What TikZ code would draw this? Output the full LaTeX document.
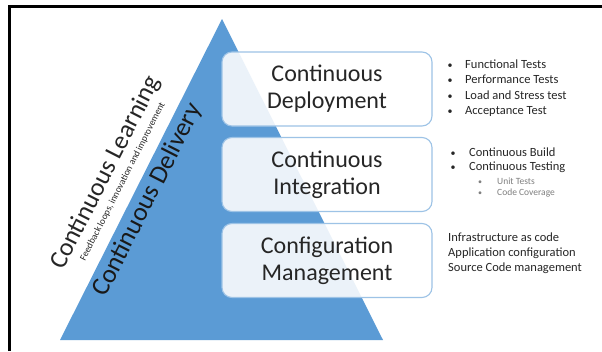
\documentclass[tikz,border=0pt]{standalone}
\usepackage{fontspec}
\setmainfont{Carlito}
\definecolor{triblue}{HTML}{5B9BD5}
\definecolor{boxline}{HTML}{9DC3E6}
\definecolor{txt}{HTML}{262626}
\definecolor{subtxt}{HTML}{7F7F7F}
\tikzset{
  stage/.style={draw=boxline, line width=1.1pt, fill=white, fill opacity=0.88, text opacity=1,
    rounded corners=10pt, minimum width=210pt, minimum height=74pt, align=center,
    text=txt, font=\fontsize{24}{27}\selectfont, inner sep=0pt},
  item/.style={anchor=base west, text=txt, font=\fontsize{12.5}{15}\selectfont, inner sep=0pt},
  bul/.style={anchor=base, text=txt, font=\fontsize{10}{12}\selectfont, inner sep=0pt},
  subitem/.style={anchor=base west, text=subtxt, font=\fontsize{9.5}{11}\selectfont, inner sep=0pt},
  subbul/.style={anchor=base, text=subtxt, font=\fontsize{8}{10}\selectfont, inner sep=0pt},
  slanted/.style={anchor=base, rotate=63, text=txt, inner sep=0pt}
}
\begin{document}
\begin{tikzpicture}[x=1pt,y=-1pt]
\useasboundingbox (0,0) rectangle (602,351);
\fill[white] (0,0) rectangle (602,351);
\draw[line width=3pt, line join=miter] (9.5,351) -- (9.5,6.5) -- (602,6.5);
% pyramid
\fill[triblue] (60,340) -- (222,19) -- (383,340) -- cycle;
% stages
\node[stage] (cd) at (327,89) {Continuous\\Deployment};
\node[stage] (ci) at (327,174.5) {Continuous\\Integration};
\node[stage] (cm) at (327,260.5) {Configuration\\Management};
% rotated labels
\node[slanted, font=\fontsize{25.5}{28}\selectfont] (learn) at (112,176) {Continuous Learning};
\node[slanted, font=\fontsize{9.5}{11}\selectfont] (loops) at (125,183) {Feedback loops, innovation and improvement};
\node[slanted, font=\fontsize{26}{29}\selectfont, text=black!90] (deliv) at (154,203) {Continuous Delivery};
% list 1
\node[bul] (b1) at (450,68) {•};
\node[item] (i1) at (465,68) {Functional Tests};
\node[bul] (b2) at (450,83.5) {•};
\node[item] (i2) at (465,83.5) {Performance Tests};
\node[bul] (b3) at (450,99) {•};
\node[item] (i3) at (465,99) {Load and Stress test};
\node[bul] (b4) at (450,114.5) {•};
\node[item] (i4) at (465,114.5) {Acceptance Test};
% list 2
\node[bul] (b5) at (453,156.5) {•};
\node[item] (i5) at (469,156.5) {Continuous Build};
\node[bul] (b6) at (453,170.5) {•};
\node[item] (i6) at (469,170.5) {Continuous Testing};
\node[subbul] (b7) at (480,184) {•};
\node[subitem] (i7) at (497,184) {Unit Tests};
\node[subbul] (b8) at (480,195.5) {•};
\node[subitem] (i8) at (497,195.5) {Code Coverage};
% list 3
\node[item] (i9) at (448,241) {Infrastructure as code};
\node[item] (i10) at (448,256) {Application configuration};
\node[item] (i11) at (448,271) {Source Code management};
\end{tikzpicture}
\end{document}
